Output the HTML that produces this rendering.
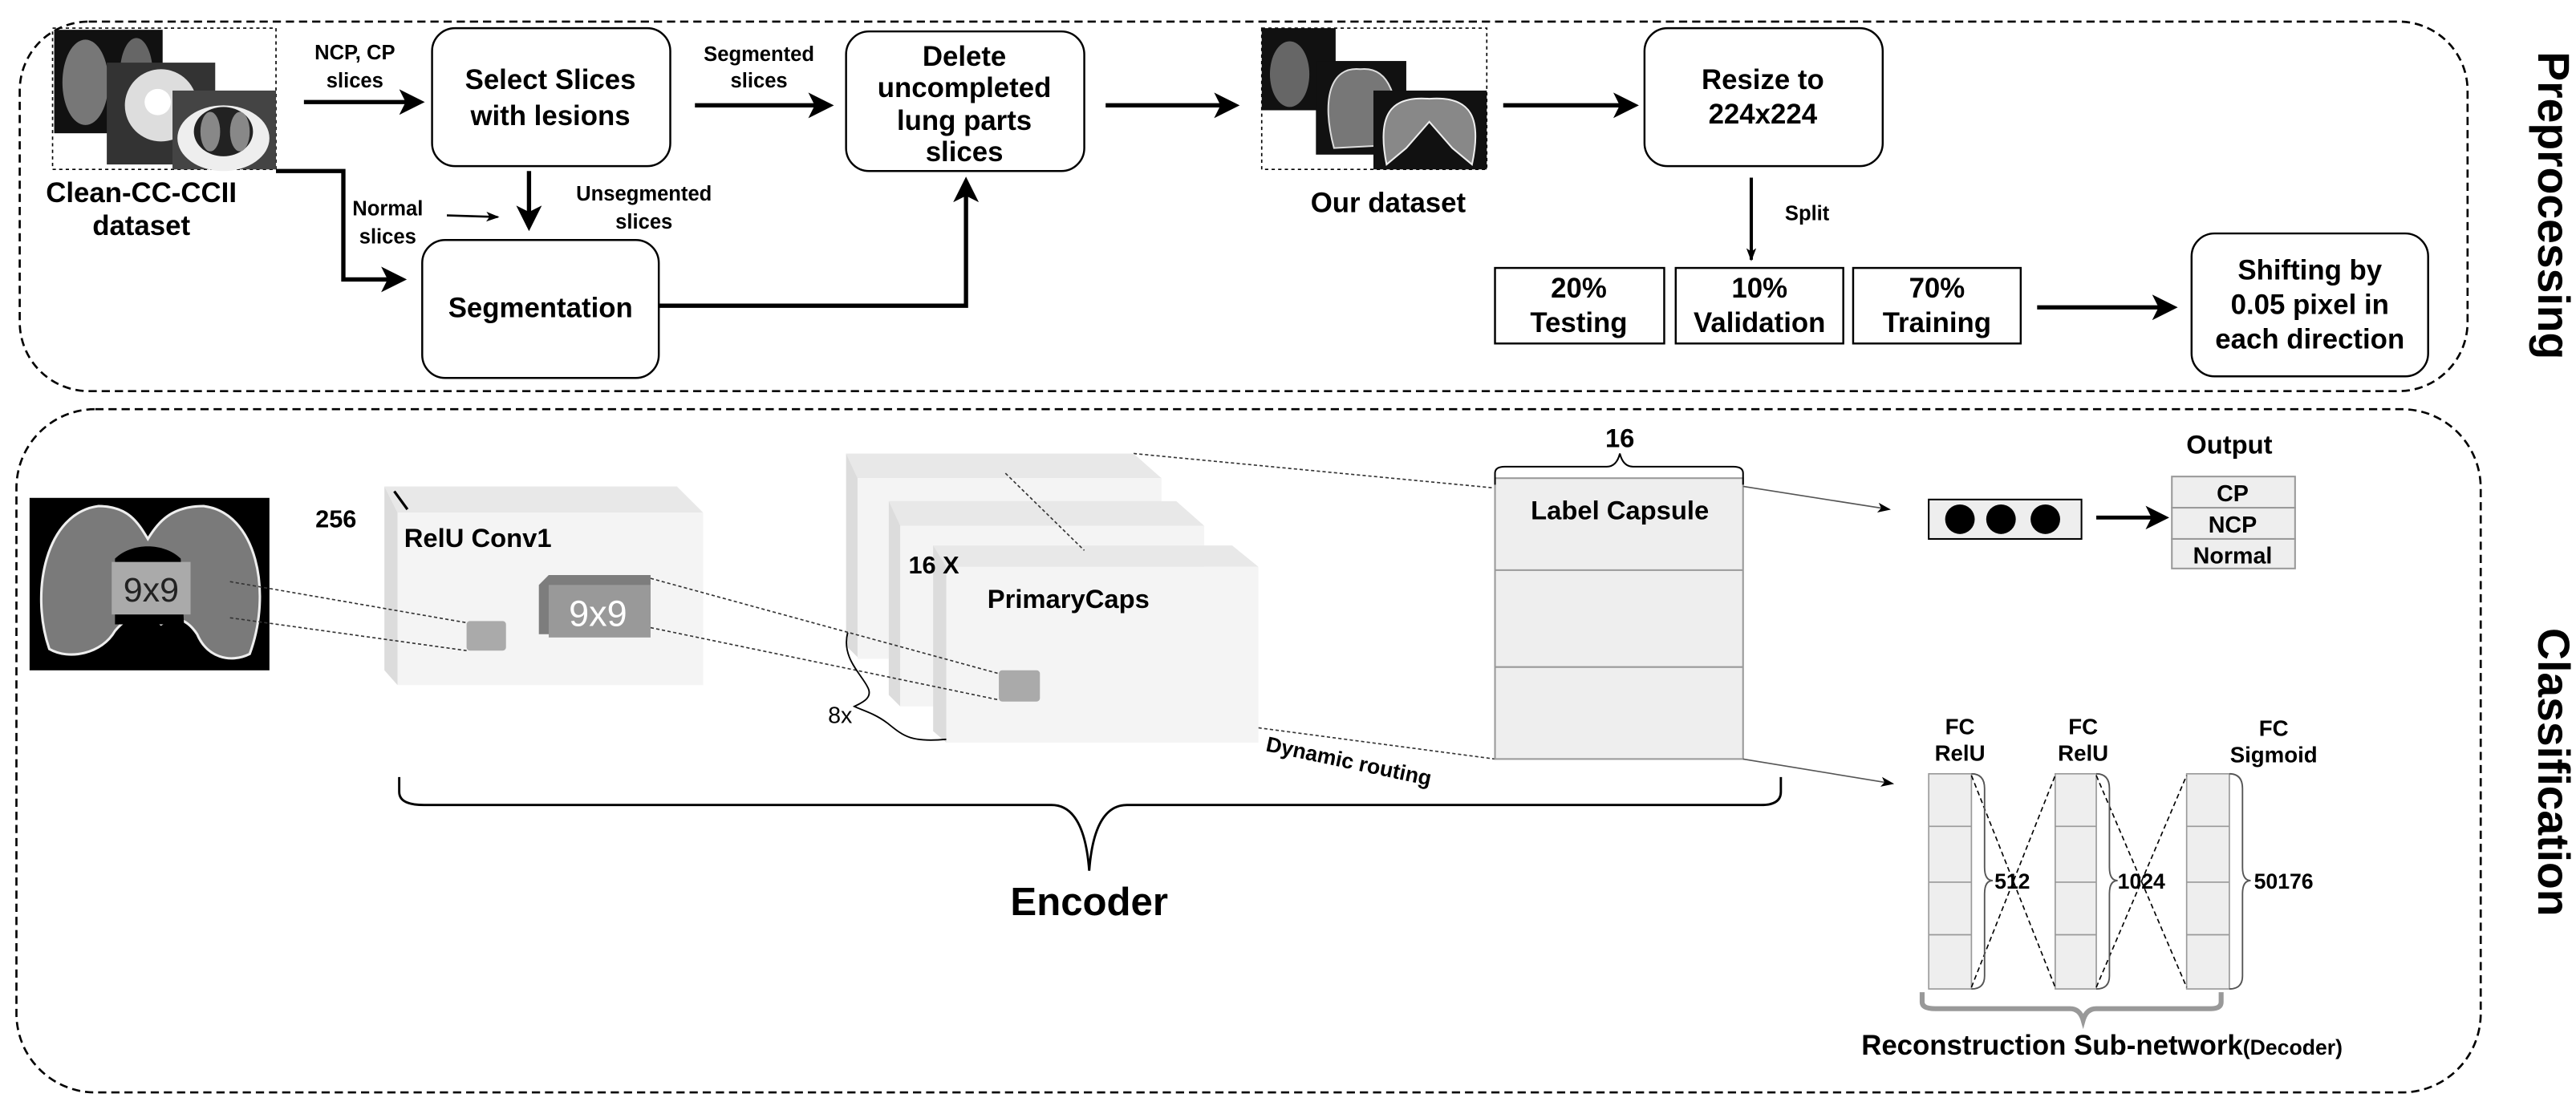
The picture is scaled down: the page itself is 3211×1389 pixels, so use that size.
<!DOCTYPE html>
<html><head><meta charset="utf-8"><style>html,body{margin:0;padding:0;background:#fff}svg{display:block}</style></head>
<body>
<svg width="3211" height="1389" viewBox="0 0 1568 678" xmlns="http://www.w3.org/2000/svg" font-family="Liberation Sans, sans-serif" font-weight="bold">
<defs>
<marker id="ah" markerWidth="6" markerHeight="6" refX="5" refY="3" orient="auto" markerUnits="strokeWidth"><path d="M0,0 L6,3 L0,6 L1.5,3 z" fill="#000"/></marker>
<marker id="as" markerWidth="8" markerHeight="8" refX="7" refY="4" orient="auto" markerUnits="userSpaceOnUse"><path d="M0,1 L8,4 L0,7 L2,4 z" fill="#000"/></marker>
</defs>
<rect x="12" y="13" width="1490" height="225" rx="42" fill="none" stroke="#000" stroke-width="1.3" stroke-dasharray="5,3"/>
<rect x="10" y="249" width="1500" height="416" rx="48" fill="none" stroke="#000" stroke-width="1.3" stroke-dasharray="5,3"/>
<text transform="translate(1545,125) rotate(90)" text-anchor="middle" font-size="27">Preprocessing</text>
<text transform="translate(1545,470) rotate(90)" text-anchor="middle" font-size="27">Classification</text>

<rect x="32" y="17" width="136" height="86" fill="none" stroke="#000" stroke-width="0.8" stroke-dasharray="2,2"/>
<rect x="33" y="18" width="66" height="63" fill="#111"/><ellipse cx="52" cy="50" rx="14" ry="26" fill="#777"/><ellipse cx="83" cy="45" rx="10" ry="22" fill="#666"/>
<rect x="65" y="38" width="66" height="62" fill="#333"/><ellipse cx="98" cy="64" rx="22" ry="22" fill="#ddd"/><circle cx="96" cy="62" r="8" fill="#fff"/>
<rect x="105" y="55" width="63" height="48" fill="#444"/><ellipse cx="136" cy="84" rx="28" ry="20" fill="#eee"/><ellipse cx="136" cy="80" rx="18" ry="15" fill="#222"/><ellipse cx="128" cy="80" rx="6" ry="12" fill="#888"/><ellipse cx="146" cy="80" rx="6" ry="12" fill="#888"/>
<text x="86" y="123" text-anchor="middle" font-size="17">Clean-CC-CCII</text>
<text x="86" y="143" text-anchor="middle" font-size="17">dataset</text>

<g font-size="12.5" text-anchor="middle">
<text x="216" y="36">NCP, CP</text><text x="216" y="53">slices</text>
<text x="462" y="37">Segmented</text><text x="462" y="53">slices</text>
<text x="236" y="131">Normal</text><text x="236" y="148">slices</text>
<text x="392" y="122">Unsegmented</text><text x="392" y="139">slices</text>
<text x="1100" y="134">Split</text>
</g>
<g stroke="#000" stroke-width="2.6" fill="none" marker-end="url(#ah)">
<line x1="185" y1="62" x2="256" y2="62"/>
<line x1="423" y1="64" x2="505" y2="64"/>
<line x1="673" y1="64" x2="752" y2="64"/>
<line x1="915" y1="64" x2="995" y2="64"/>
<line x1="1240" y1="187" x2="1323" y2="187"/>
<polyline points="168,104 209,104 209,170 245,170"/>
<polyline points="401,186 588,186 588,110"/>
<line x1="322" y1="104" x2="322" y2="138"/>
</g>
<line x1="272" y1="131" x2="303" y2="132" stroke="#000" stroke-width="1.3" marker-end="url(#as)"/>
<line x1="1066" y1="108" x2="1066" y2="158" stroke="#000" stroke-width="2" marker-end="url(#as)"/>

<g fill="#fff" stroke="#000" stroke-width="1.2">
<rect x="263" y="17" width="145" height="84" rx="14"/>
<rect x="515" y="19" width="145" height="85" rx="14"/>
<rect x="1001" y="17" width="145" height="84" rx="14"/>
<rect x="257" y="146" width="144" height="84" rx="14"/>
<rect x="1334" y="142" width="144" height="87" rx="14"/>
<rect x="910" y="163" width="103" height="46"/>
<rect x="1020" y="163" width="102" height="46"/>
<rect x="1128" y="163" width="102" height="46"/>
</g>
<g font-size="17" text-anchor="middle">
<text x="335" y="54">Select Slices</text><text x="335" y="76">with lesions</text>
<text x="587" y="40">Delete</text><text x="587" y="59">uncompleted</text><text x="587" y="79">lung parts</text><text x="587" y="98">slices</text>
<text x="1073" y="54">Resize to</text><text x="1073" y="75">224x224</text>
<text x="329" y="193">Segmentation</text>
<text x="1406" y="170">Shifting by</text><text x="1406" y="191">0.05 pixel in</text><text x="1406" y="212">each direction</text>
<text x="961" y="181">20%</text><text x="961" y="202">Testing</text>
<text x="1071" y="181">10%</text><text x="1071" y="202">Validation</text>
<text x="1179" y="181">70%</text><text x="1179" y="202">Training</text>
<text x="845" y="129">Our dataset</text>
</g>
<rect x="768" y="17" width="137" height="86" fill="none" stroke="#000" stroke-width="0.8" stroke-dasharray="2,2"/>
<rect x="768" y="17" width="45" height="50" fill="#111"/><ellipse cx="785" cy="45" rx="12" ry="20" fill="#666"/>
<rect x="801" y="37" width="55" height="57" fill="#111"/><path d="M812,90 C804,60 810,40 828,42 C846,40 852,60 850,88 Z" fill="#777" stroke="#ddd"/>
<rect x="836" y="55" width="69" height="48" fill="#111"/><path d="M844,100 C838,70 846,58 870,60 C896,58 902,72 896,100 L884,90 L870,74 L856,90 Z" fill="#888" stroke="#eee"/>

<rect x="18" y="303" width="146" height="105" fill="#000"/>
<path d="M30,395 C18,360 28,312 60,308 C78,308 84,318 90,328 C96,318 104,308 124,308 C156,312 166,360 152,398 C140,404 126,400 120,386 C112,374 104,376 98,380 C90,372 80,372 70,384 C62,398 42,402 30,395 Z" fill="#7a7a7a" stroke="#eee" stroke-width="1.5"/>
<path d="M70,340 C80,330 100,330 110,340 L112,380 L70,380 Z" fill="#000"/>
<rect x="68" y="342" width="48" height="32" fill="#aaa"/>
<text x="92" y="366" text-anchor="middle" font-size="21" font-weight="normal" fill="#222">9x9</text>

<polygon points="234,296 412,296 428,312 242,312" fill="#e8e8e8"/>
<polygon points="234,296 242,312 242,417 234,408" fill="#dcdcdc"/>
<rect x="242" y="312" width="186" height="105" fill="#f4f4f4"/>
<line x1="240" y1="299" x2="248" y2="310" stroke="#000" stroke-width="1.6"/>
<text x="217" y="321" text-anchor="end" font-size="15">256</text>
<text x="246" y="333" font-size="16">RelU Conv1</text>
<rect x="284" y="378" width="24" height="18" fill="#aaa" rx="2"/>
<polygon points="328,356 334,350 396,350 396,380 390,386 328,386" fill="#7d7d7d"/>
<rect x="334" y="356" width="62" height="32" fill="#999"/>
<text x="364" y="381" text-anchor="middle" font-size="22" font-weight="normal" fill="#fff">9x9</text>
<g stroke="#333" stroke-width="0.8" stroke-dasharray="2,1.5" fill="none">
<line x1="140" y1="354" x2="284" y2="379"/>
<line x1="140" y1="376" x2="284" y2="396"/>
<line x1="690" y1="276" x2="910" y2="297"/>
<line x1="766" y1="443" x2="910" y2="462"/>
</g>

<polygon points="515,276 690,276 707,291 522,291" fill="#e8e8e8"/>
<polygon points="515,276 522,291 522,400 515,393" fill="#dcdcdc"/>
<rect x="522" y="291" width="185" height="110" fill="#f4f4f4"/>
<polygon points="541,305 716,305 733,320 548,320" fill="#e8e8e8"/>
<polygon points="541,305 548,320 548,430 541,423" fill="#dcdcdc"/>
<rect x="548" y="320" width="185" height="110" fill="#f4f4f4"/>
<polygon points="568,332 750,332 766,345 576,345" fill="#e8e8e8"/>
<polygon points="568,332 576,345 576,452 568,445" fill="#dcdcdc"/>
<rect x="576" y="345" width="190" height="107" fill="#f4f4f4"/>
<g stroke="#333" stroke-width="0.8" stroke-dasharray="2,1.5" fill="none">
<line x1="612" y1="288" x2="660" y2="335"/>
<line x1="396" y1="352" x2="608" y2="410"/>
<line x1="396" y1="382" x2="608" y2="426"/>
</g>
<text x="553" y="349" font-size="15">16 X</text>
<text x="601" y="370" font-size="16">PrimaryCaps</text>
<rect x="608" y="408" width="25" height="19" fill="#aaa" rx="2"/>
<path d="M516,385 C512,400 524,410 528,418 C532,425 524,428 520,430 C524,432 532,434 540,440 C550,448 554,452 576,450" fill="none" stroke="#000" stroke-width="0.9"/>
<text x="504" y="440" font-size="14" font-weight="normal">8x</text>
<text transform="translate(770,457) rotate(12)" font-size="13">Dynamic routing</text>

<rect x="910" y="291" width="151" height="171" fill="#eee" stroke="#999" stroke-width="1"/>
<line x1="910" y1="347" x2="1061" y2="347" stroke="#999"/>
<line x1="910" y1="406" x2="1061" y2="406" stroke="#999"/>
<text x="986" y="316" text-anchor="middle" font-size="16">Label Capsule</text>
<path d="M910,295 L910,288 Q910,284 916,284 L978,284 Q984,284 986,276 Q988,284 994,284 L1055,284 Q1061,284 1061,288 L1061,295" fill="none" stroke="#000" stroke-width="1"/>
<text x="986" y="272" text-anchor="middle" font-size="16">16</text>
<g stroke="#555" stroke-width="0.8" fill="none">
<line x1="1061" y1="296" x2="1150" y2="310" marker-end="url(#as)"/>
<line x1="1061" y1="462" x2="1152" y2="477" marker-end="url(#as)"/>
</g>

<path d="M243,473 L243,482 Q243,490 258,490 L640,490 Q660,490 663,530 Q666,490 686,490 L1072,490 Q1084,490 1084,482 L1084,473" fill="none" stroke="#000" stroke-width="1.4"/>
<text x="663" y="557" text-anchor="middle" font-size="24">Encoder</text>

<text x="1357" y="276" text-anchor="middle" font-size="16">Output</text>
<rect x="1174" y="304" width="93" height="24" fill="#eee" stroke="#000" stroke-width="1"/>
<circle cx="1193" cy="316" r="9"/><circle cx="1218" cy="316" r="9"/><circle cx="1245" cy="316" r="9"/>
<line x1="1276" y1="315" x2="1318" y2="315" stroke="#000" stroke-width="2.4" marker-end="url(#ah)"/>
<g fill="#eee" stroke="#999" stroke-width="1">
<rect x="1322" y="290" width="75" height="19"/><rect x="1322" y="309" width="75" height="19"/><rect x="1322" y="328" width="75" height="18"/>
</g>
<g font-size="14" text-anchor="middle">
<text x="1359" y="305">CP</text><text x="1359" y="324">NCP</text><text x="1359" y="343">Normal</text>
</g>

<g font-size="13.5" text-anchor="middle">
<text x="1193" y="447">FC</text><text x="1193" y="463">RelU</text>
<text x="1268" y="447">FC</text><text x="1268" y="463">RelU</text>
<text x="1384" y="448">FC</text><text x="1384" y="464">Sigmoid</text>
</g>
<g fill="#eee" stroke="#999" stroke-width="0.8">
<rect x="1174" y="471" width="26" height="131"/><rect x="1251" y="471" width="25" height="131"/><rect x="1331" y="471" width="26" height="131"/>
</g>
<g stroke="#999" stroke-width="0.8">
<line x1="1174" y1="503" x2="1200" y2="503"/><line x1="1174" y1="537" x2="1200" y2="537"/><line x1="1174" y1="569" x2="1200" y2="569"/>
<line x1="1251" y1="503" x2="1276" y2="503"/><line x1="1251" y1="537" x2="1276" y2="537"/><line x1="1251" y1="569" x2="1276" y2="569"/>
<line x1="1331" y1="503" x2="1357" y2="503"/><line x1="1331" y1="537" x2="1357" y2="537"/><line x1="1331" y1="569" x2="1357" y2="569"/>
</g>
<g stroke="#000" stroke-width="0.8" stroke-dasharray="3,2" fill="none">
<line x1="1200" y1="472" x2="1251" y2="601"/><line x1="1200" y1="601" x2="1251" y2="472"/>
<line x1="1276" y1="472" x2="1331" y2="601"/><line x1="1276" y1="601" x2="1331" y2="472"/>
</g>
<g stroke="#555" stroke-width="0.9" fill="none">
<path d="M1200,471 Q1208,471 1208,480 L1208,528 Q1208,536 1213,536 Q1208,536 1208,544 L1208,594 Q1208,602 1200,602"/>
<path d="M1276,471 Q1284,471 1284,480 L1284,528 Q1284,536 1289,536 Q1284,536 1284,544 L1284,594 Q1284,602 1276,602"/>
<path d="M1357,471 Q1365,471 1365,480 L1365,528 Q1365,536 1370,536 Q1365,536 1365,544 L1365,594 Q1365,602 1357,602"/>
</g>
<g font-size="13">
<text x="1214" y="541">512</text><text x="1289" y="541">1024</text><text x="1372" y="541">50176</text>
</g>
<path d="M1170,604 L1170,610 Q1170,614 1178,614 L1260,614 Q1266,614 1268,621 Q1270,614 1276,614 L1346,614 Q1352,614 1352,610 L1352,604" fill="none" stroke="#999" stroke-width="3"/>
<text x="1133" y="642" font-size="17">Reconstruction Sub-network<tspan font-size="13">(Decoder)</tspan></text>
</svg>
</body></html>
